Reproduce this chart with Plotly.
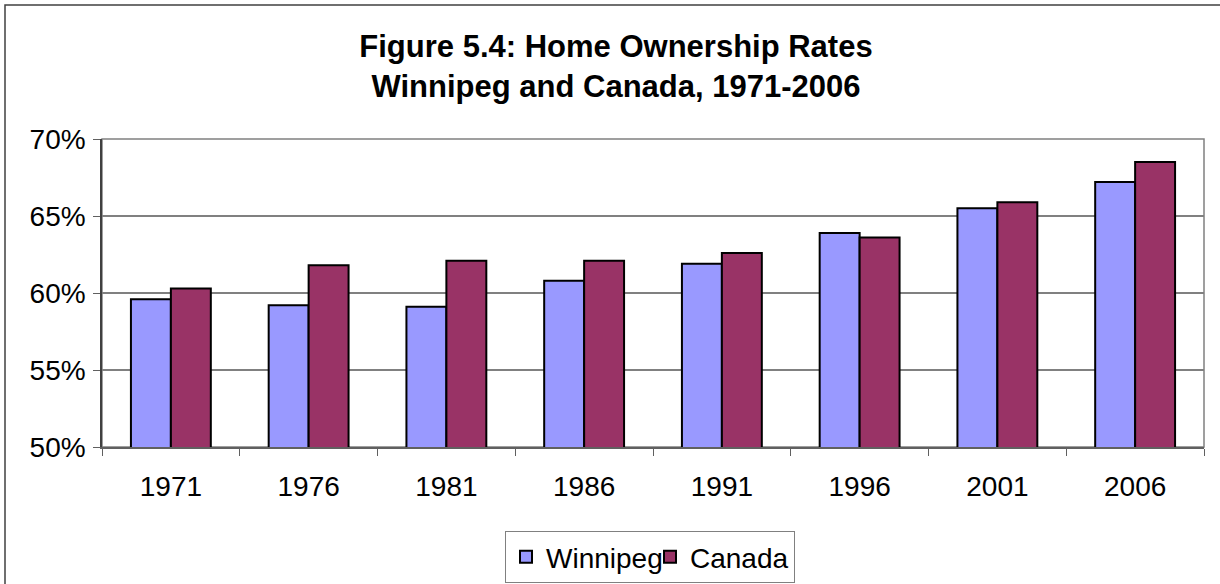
import plotly.graph_objects as go

years = ["1971", "1976", "1981", "1986", "1991", "1996", "2001", "2006"]
winnipeg = [59.6, 59.2, 59.1, 60.8, 61.9, 63.9, 65.5, 67.2]
canada = [60.3, 61.8, 62.1, 62.1, 62.6, 63.6, 65.9, 68.5]
series_names = ["Winnipeg", "Canada"]
title_lines = ["Figure 5.4: Home Ownership Rates", "Winnipeg and Canada, 1971-2006"]
y_ticks = [50, 55, 60, 65, 70]
y_ticklabels = ["50%", "55%", "60%", "65%", "70%"]

W, H = 1220, 584
ML, MR, MT, MB = 102, 16, 139, 137
PW, PH = W - ML - MR, H - MT - MB

fig = go.Figure()
fig.add_trace(go.Bar(x=years, y=winnipeg, name=series_names[0],
                     marker=dict(color="#9999FF", line=dict(color="black", width=2))))
fig.add_trace(go.Bar(x=years, y=canada, name=series_names[1],
                     marker=dict(color="#993366", line=dict(color="black", width=2))))

fig.update_layout(
    width=W, height=H,
    margin=dict(l=ML, r=MR, t=MT, b=MB, autoexpand=False),
    paper_bgcolor="white", plot_bgcolor="white",
    font=dict(family="Liberation Sans, Arial", size=28, color="black"),
    title=dict(text="<b>" + "<br>".join(title_lines) + "</b>",
               x=616 / W, xanchor="center", y=1 - 57 / H, yanchor="top",
               font=dict(size=31, family="Liberation Sans, Arial")),
    barmode="group", bargap=0.42, bargroupgap=0,
    showlegend=True,
    legend=dict(orientation="h", x=(650 - ML) / PW, xanchor="center",
                y=(PH - (531 - MT)) / PH, yanchor="top",
                bordercolor="#808080", borderwidth=1, font=dict(size=28),
                itemwidth=30, tracegroupgap=0,
                entrywidth=99, entrywidthmode="pixels"),
    xaxis=dict(type="category", tickson="boundaries", ticks="outside", ticklen=7,
               tickcolor="#606060", showline=True, linecolor="#606060", linewidth=1.5,
               ticklabelstandoff=14, tickfont=dict(size=28)),
    yaxis=dict(range=[50, 70], tickvals=y_ticks, ticktext=y_ticklabels,
               ticks="outside", ticklen=7, tickcolor="#606060",
               showgrid=True, gridcolor="#808080", gridwidth=1.5,
               showline=True, linecolor="#404040", linewidth=1.5,
               ticklabelstandoff=2, tickfont=dict(size=28)),
)
# plot-area right/top border
fig.add_shape(type="rect", xref="paper", yref="paper", x0=0, x1=1, y0=0, y1=1,
              line=dict(color="#808080", width=1.5), layer="below")
# outer chart border (only left and top visible in the frame)
fig.add_shape(type="rect", xref="paper", yref="paper",
              x0=(5 - ML) / PW, x1=(W + 20 - ML) / PW,
              y0=(PH - (H + 20 - MT)) / PH, y1=(PH - (5 - MT)) / PH,
              line=dict(color="#404040", width=1.5))

fig.write_html("out.html", config={"displayModeBar": False},
               post_script="document.body.style.margin='0';document.body.style.overflow='hidden';")
